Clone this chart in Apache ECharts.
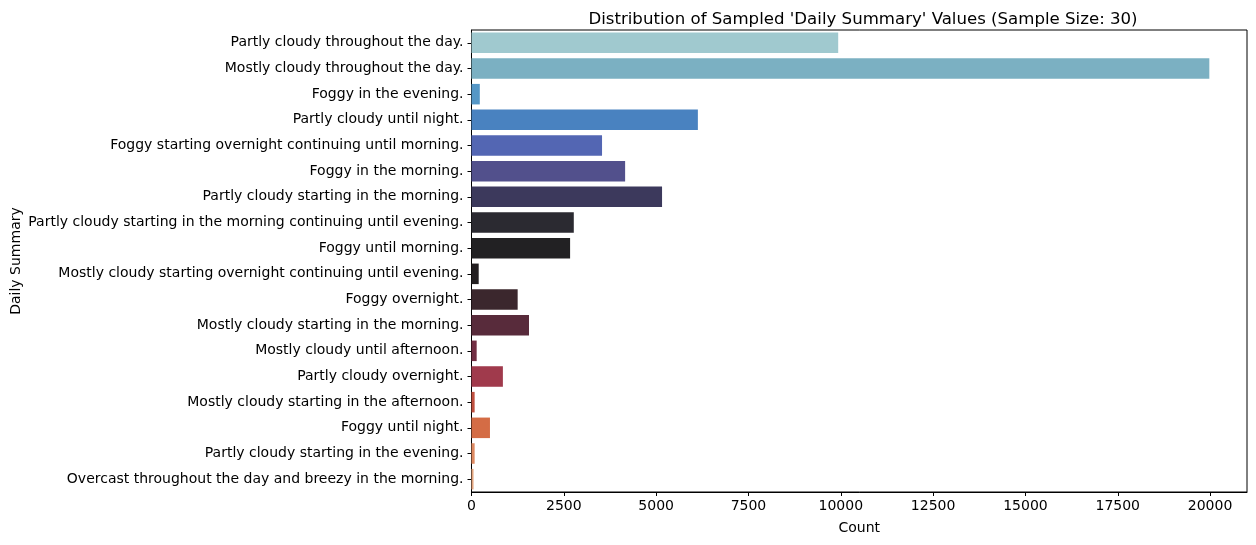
<!DOCTYPE html>
<html>
<head>
    <meta charset="utf-8">
    <title>Daily Summary</title>
    <script src="https://cdn.jsdelivr.net/npm/echarts@6/dist/echarts.min.js"></script>
    <style>
        html, body { margin: 0; padding: 0; background: #fff; }
        #main { width: 1256px; height: 545px; }
    </style>
</head>
<body>
<div id="main"></div>
<script>
    // categories, top to bottom
    var summaries = [
        'Partly cloudy throughout the day.',
        'Mostly cloudy throughout the day.',
        'Foggy in the evening.',
        'Partly cloudy until night.',
        'Foggy starting overnight continuing until morning.',
        'Foggy in the morning.',
        'Partly cloudy starting in the morning.',
        'Partly cloudy starting in the morning continuing until evening.',
        'Foggy until morning.',
        'Mostly cloudy starting overnight continuing until evening.',
        'Foggy overnight.',
        'Mostly cloudy starting in the morning.',
        'Mostly cloudy until afternoon.',
        'Partly cloudy overnight.',
        'Mostly cloudy starting in the afternoon.',
        'Foggy until night.',
        'Partly cloudy starting in the evening.',
        'Overcast throughout the day and breezy in the morning.'
    ];
    var counts = [9930, 19980, 225, 6130, 3535, 4160, 5160, 2770, 2670,
                  195, 1250, 1557, 140, 850, 85, 500, 85, 55];
    var barColors = ['#a0c9cf', '#7bb0c2', '#5597c6', '#4982c0', '#5366b3', '#52508c',
                     '#3c395c', '#2b2a31', '#222123', '#231f21', '#3b272d', '#582b3b',
                     '#722e43', '#a03a4c', '#c0503f', '#d46c45', '#de8a62', '#e3a47e'];
    var xTicks = [0, 2500, 5000, 7500, 10000, 12500, 15000, 17500, 20000];

    var font = 'DejaVu Sans';
    var myChart = echarts.init(document.getElementById('main'));
    var data = [];
    for (var i = 0; i < counts.length; i++) {
        data.push({ value: counts[i], itemStyle: { color: barColors[i] } });
    }
    var option = {
        animation: false,
        title: {
            text: "Distribution of Sampled 'Daily Summary' Values (Sample Size: 30)",
            left: 858, top: 6, textAlign: 'center',
            textStyle: { fontFamily: font, fontSize: 16.6, fontWeight: 'normal', color: '#000' }
        },
        grid: {
            left: 471.5, right: 9, top: 30, bottom: 53,
            outerBoundsMode: 'none', containLabel: false,
            show: true, borderColor: '#000', borderWidth: 1
        },
        xAxis: {
            type: 'value',
            min: xTicks[0], max: 21000, interval: 2500,
            name: 'Count', nameLocation: 'middle', nameGap: 29, nameMoveOverlap: false,
            nameTextStyle: { fontFamily: font, fontSize: 14, color: '#000' },
            axisLine: { show: true, lineStyle: { color: '#000' } },
            axisTick: { show: true, length: 4, lineStyle: { color: '#000' } },
            axisLabel: {
                fontFamily: font, fontSize: 14, color: '#000', margin: 7,
                showMaxLabel: false,
                formatter: function (v) { return xTicks.indexOf(v) >= 0 ? String(v) : ''; }
            },
            splitLine: { show: false }
        },
        yAxis: {
            type: 'category', data: summaries, inverse: true,
            name: 'Daily Summary', nameLocation: 'middle', nameGap: 448, nameRotate: 90,
            nameMoveOverlap: false,
            nameTextStyle: { fontFamily: font, fontSize: 14, color: '#000' },
            axisLine: { show: true, lineStyle: { color: '#000' } },
            axisTick: { show: true, length: 4, alignWithLabel: true, lineStyle: { color: '#000' } },
            axisLabel: { fontFamily: font, fontSize: 14, color: '#000', margin: 8 }
        },
        series: [{
            type: 'bar',
            data: data,
            barCategoryGap: '20%'
        }]
    };
    myChart.setOption(option);
</script>
</body>
</html>
